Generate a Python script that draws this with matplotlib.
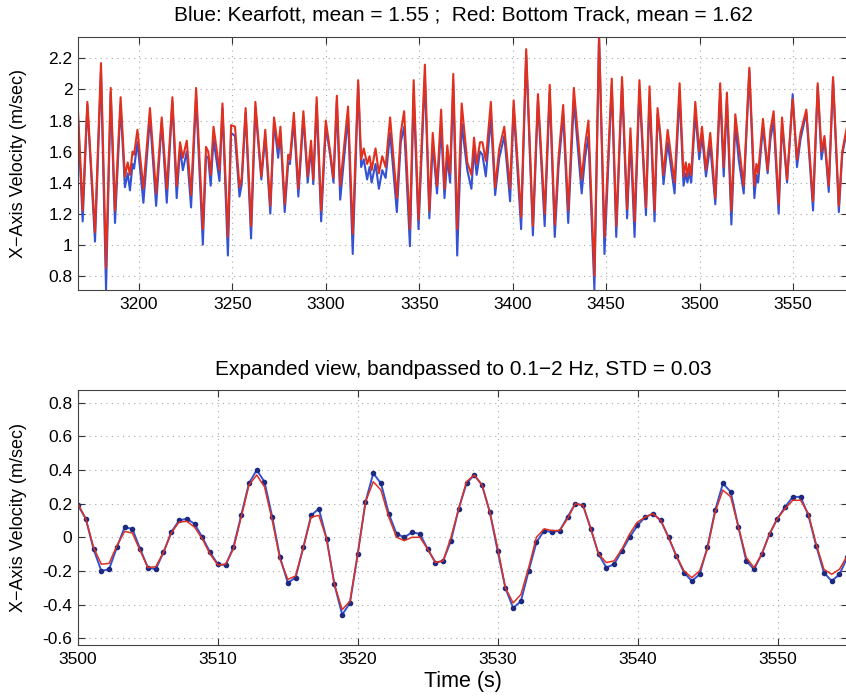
import numpy as np
import matplotlib
matplotlib.use('Agg')
import matplotlib.pyplot as plt
from matplotlib.ticker import FuncFormatter, MultipleLocator

plt.rcParams['font.family'] = ['Liberation Sans', 'DejaVu Sans']

# ---- top panel: turning points ----
t_top = [3166.7, 3169.9, 3172.4, 3176.5, 3179.7, 3182.4, 3184.9, 3187.2, 3190.2, 3192.5,
         3194.0, 3195.2, 3196.6, 3197.4, 3199.2, 3202.4, 3205.9, 3209.2, 3212.2, 3214.9,
         3217.9, 3220.2, 3222.0, 3223.5, 3225.6, 3227.9, 3230.6, 3234.2, 3235.9, 3237.1,
         3238.4, 3239.9, 3243.1, 3244.7, 3247.6, 3249.3, 3251.4, 3253.8, 3255.0, 3257.1,
         3260.0, 3262.3, 3265.5, 3267.6, 3270.3, 3272.3, 3274.5, 3275.7, 3278.0, 3279.9,
         3280.8, 3282.9, 3285.3, 3288.0, 3290.3, 3292.1, 3293.3, 3295.1, 3297.5, 3300.0,
         3302.3, 3304.1, 3305.9, 3307.7, 3311.9, 3314.4, 3317.3, 3318.9, 3320.3, 3322.1,
         3323.4, 3324.5, 3326.6, 3328.4, 3330.2, 3332.0, 3334.4, 3338.0, 3340.1, 3341.9,
         3345.0, 3347.0, 3349.6, 3353.0, 3355.4, 3357.2, 3359.5, 3361.7, 3363.5, 3365.0,
         3366.5, 3368.2, 3370.3, 3372.7, 3375.7, 3377.9, 3379.3, 3380.7, 3382.5, 3383.8,
         3385.6, 3388.3, 3390.6, 3392.8, 3395.5, 3398.6, 3400.5, 3404.5, 3407.2, 3410.8,
         3413.5, 3417.1, 3419.8, 3422.5, 3424.5, 3427.0, 3429.7, 3432.7, 3436.9, 3438.7,
         3440.5, 3443.7, 3446.2, 3449.1, 3453.0, 3455.4, 3458.5, 3461.2, 3463.0, 3465.2,
         3467.8, 3471.3, 3473.2, 3475.9, 3477.5, 3478.9, 3480.7, 3482.9, 3486.6, 3489.3,
         3491.4, 3492.6, 3493.5, 3494.4, 3495.5, 3497.7, 3499.8, 3501.3, 3503.4, 3505.7,
         3508.4, 3511.0, 3512.9, 3514.6, 3517.0, 3519.1, 3520.9, 3523.6, 3526.6, 3529.3,
         3530.4, 3531.3, 3533.9, 3536.4, 3537.9, 3539.6, 3542.3, 3544.1, 3546.8, 3549.8,
         3552.1, 3554.0, 3557.1, 3560.7, 3563.2, 3565.2, 3566.8, 3569.1, 3571.4, 3574.5,
         3576.3, 3579.5]

kearfott_top = [2.00, 1.15, 1.90, 1.02, 2.12, 0.71, 1.98, 1.14, 1.90, 1.37,
                1.46, 1.35, 1.52, 1.49, 1.66, 1.27, 1.82, 1.25, 1.79, 1.27,
                1.92, 1.30, 1.62, 1.48, 1.60, 1.24, 1.95, 1.00, 1.57, 1.56,
                1.38, 1.68, 1.41, 1.88, 0.93, 1.72, 1.70, 1.31, 1.39, 1.85,
                1.04, 1.88, 1.42, 1.70, 1.20, 1.79, 1.56, 1.72, 1.21, 1.53,
                1.52, 1.80, 1.31, 1.82, 1.40, 1.62, 1.39, 1.90, 1.15, 1.76,
                1.58, 1.40, 1.92, 1.29, 1.83, 0.94, 2.03, 1.50, 1.55, 1.42,
                1.50, 1.40, 1.52, 1.36, 1.48, 1.43, 1.72, 1.21, 1.66, 1.76,
                0.99, 1.97, 1.10, 2.08, 1.17, 1.65, 1.33, 1.76, 1.30, 1.56,
                1.40, 2.03, 0.93, 1.78, 1.48, 1.36, 1.61, 1.45, 1.60, 1.58,
                1.44, 1.82, 1.32, 1.56, 1.70, 1.28, 1.88, 1.10, 2.22, 1.06,
                1.93, 1.12, 1.98, 1.05, 1.50, 1.84, 1.14, 1.93, 1.33, 1.56,
                1.70, 0.71, 2.36, 0.94, 2.03, 1.05, 2.03, 1.17, 1.68, 1.05,
                2.00, 1.19, 1.95, 1.15, 1.84, 1.70, 1.39, 1.66, 1.33, 1.97,
                1.38, 1.46, 1.40, 1.47, 1.40, 1.85, 1.55, 1.70, 1.44, 1.64,
                1.26, 1.98, 1.44, 1.93, 1.13, 1.78, 1.55, 1.33, 2.12, 1.30,
                1.45, 1.40, 1.76, 1.46, 1.68, 1.80, 1.20, 1.78, 1.40, 1.97,
                1.50, 1.68, 1.85, 1.22, 2.02, 1.55, 1.68, 1.34, 2.06, 1.21,
                1.58, 1.78]

bottom_track_top = [2.04, 1.22, 1.92, 1.08, 2.17, 0.85, 2.01, 1.22, 1.95, 1.44,
                    1.53, 1.45, 1.60, 1.58, 1.74, 1.36, 1.88, 1.33, 1.82, 1.36,
                    1.95, 1.38, 1.66, 1.56, 1.67, 1.32, 2.01, 1.10, 1.63, 1.60,
                    1.45, 1.76, 1.48, 1.91, 1.05, 1.77, 1.76, 1.37, 1.43, 1.88,
                    1.12, 1.92, 1.44, 1.74, 1.25, 1.82, 1.62, 1.76, 1.26, 1.58,
                    1.55, 1.85, 1.36, 1.86, 1.44, 1.67, 1.42, 1.95, 1.22, 1.80,
                    1.60, 1.43, 1.96, 1.38, 1.89, 1.07, 2.06, 1.55, 1.62, 1.52,
                    1.57, 1.48, 1.62, 1.46, 1.57, 1.50, 1.82, 1.30, 1.72, 1.86,
                    1.10, 2.06, 1.16, 2.16, 1.22, 1.72, 1.38, 1.87, 1.36, 1.64,
                    1.46, 2.10, 1.10, 1.91, 1.53, 1.45, 1.69, 1.52, 1.66, 1.66,
                    1.54, 1.92, 1.37, 1.62, 1.76, 1.36, 1.93, 1.18, 2.26, 1.12,
                    1.97, 1.20, 2.03, 1.13, 1.56, 1.90, 1.22, 2.01, 1.42, 1.64,
                    1.80, 0.80, 2.33, 1.05, 2.07, 1.12, 2.08, 1.23, 1.75, 1.15,
                    2.06, 1.24, 2.02, 1.22, 1.88, 1.72, 1.45, 1.74, 1.40, 2.04,
                    1.44, 1.53, 1.44, 1.52, 1.45, 1.92, 1.60, 1.76, 1.48, 1.72,
                    1.30, 2.04, 1.50, 1.98, 1.22, 1.84, 1.65, 1.38, 2.14, 1.38,
                    1.52, 1.46, 1.81, 1.48, 1.74, 1.86, 1.26, 1.82, 1.42, 1.94,
                    1.55, 1.72, 1.87, 1.28, 2.04, 1.60, 1.70, 1.38, 2.08, 1.25,
                    1.60, 1.80]

# ---- bottom panel: bandpassed samples, 3500-3555 s ----
t_start = 3500.0
dt = 0.555
kearfott_bp = [0.19, 0.11, -0.07, -0.20, -0.19, -0.06, 0.06, 0.05, -0.07, -0.18,
               -0.19, -0.09, 0.03, 0.10, 0.11, 0.08, 0.00, -0.09, -0.16, -0.165,
               -0.06, 0.13, 0.32, 0.40, 0.33, 0.12, -0.12, -0.27, -0.24, -0.06,
               0.13, 0.17, -0.01, -0.28, -0.46, -0.39, -0.10, 0.21, 0.38, 0.32,
               0.14, 0.02, 0.00, 0.03, 0.02, -0.07, -0.15, -0.14, -0.02, 0.17,
               0.32, 0.37, 0.31, 0.15, -0.08, -0.30, -0.42, -0.38, -0.20, -0.03,
               0.04, 0.03, 0.04, 0.12, 0.20, 0.19, 0.05, -0.10, -0.18, -0.16,
               -0.08, 0.00, 0.07, 0.12, 0.14, 0.10, 0.00, -0.11, -0.21, -0.26,
               -0.22, -0.06, 0.16, 0.32, 0.27, 0.06, -0.14, -0.19, -0.10, 0.02,
               0.11, 0.18, 0.24, 0.24, 0.13, -0.05, -0.21, -0.26, -0.22, -0.12]
bottom_track_bp = [0.20, 0.11, -0.06, -0.16, -0.155, -0.05, 0.035, 0.025, -0.08, -0.18,
                   -0.175, -0.09, 0.025, 0.09, 0.095, 0.06, -0.01, -0.10, -0.165, -0.16,
                   -0.07, 0.12, 0.31, 0.37, 0.30, 0.10, -0.13, -0.25, -0.23, -0.06,
                   0.12, 0.13, -0.01, -0.28, -0.43, -0.38, -0.10, 0.21, 0.33, 0.28,
                   0.12, 0.00, -0.02, 0.00, 0.00, -0.07, -0.15, -0.14, 0.00, 0.17,
                   0.33, 0.37, 0.31, 0.15, -0.06, -0.30, -0.39, -0.34, -0.18, 0.00,
                   0.05, 0.04, 0.04, 0.11, 0.20, 0.19, 0.05, -0.10, -0.15, -0.14,
                   -0.07, 0.02, 0.09, 0.12, 0.14, 0.10, 0.00, -0.11, -0.20, -0.24,
                   -0.20, -0.07, 0.15, 0.28, 0.24, 0.06, -0.12, -0.18, -0.10, 0.02,
                   0.11, 0.17, 0.22, 0.22, 0.14, -0.04, -0.19, -0.22, -0.19, -0.11]

blue = '#3352d4'
red = '#e2301f'
dot_color = '#1c2a80'

fig = plt.figure(figsize=(8.46, 6.96), dpi=100)
ax1 = fig.add_axes([78/846, 1 - 290/696, 770/846, 253.3/696])
ax2 = fig.add_axes([78/846, 1 - 645/696, 770/846, 255/696])

fmt = FuncFormatter(lambda v, p: '%g' % round(v, 3))

ax1.plot(t_top, kearfott_top, color=blue, linewidth=1.5, solid_joinstyle='round')
ax1.plot(t_top, bottom_track_top, color=red, linewidth=1.5, solid_joinstyle='round')
ax1.set_xlim(3167.4, 3579.4)
ax1.set_ylim(0.708, 2.34)
ax1.xaxis.set_major_locator(MultipleLocator(50))
ax1.yaxis.set_major_locator(MultipleLocator(0.2))
ax1.set_title('Blue: Kearfott, mean = 1.55 ;  Red: Bottom Track, mean = 1.62',
              fontsize=15, pad=11.5)

t_bp = t_start + dt * np.arange(len(kearfott_bp))
ax2.plot(t_bp, kearfott_bp, color=blue, linewidth=1.4, marker='o', markersize=3,
         markerfacecolor=dot_color, markeredgecolor=dot_color)
ax2.plot(t_bp, bottom_track_bp, color=red, linewidth=1.1)
ax2.set_xlim(3500, 3555)
ax2.set_ylim(-0.64, 0.875)
ax2.xaxis.set_major_locator(MultipleLocator(10))
ax2.yaxis.set_major_locator(MultipleLocator(0.2))
ax2.set_title('Expanded view, bandpassed to 0.1\u22122 Hz, STD = 0.03',
              fontsize=15, pad=11)
ax2.set_xlabel('Time (s)', fontsize=15.5, labelpad=3)

for ax in (ax1, ax2):
    ax.set_ylabel('X\u2212Axis Velocity (m/sec)', fontsize=13)
    ax.yaxis.set_label_coords(-0.066, 0.5)
    ax.yaxis.set_major_formatter(fmt)
    ax.grid(True, color='#a8a8a8', linestyle=(0, (1, 4)), linewidth=0.8)
    ax.tick_params(direction='in', top=True, right=True, length=5,
                   labelsize=12.5, color='#333333')
    ax.tick_params(axis='y', pad=4)
    ax.tick_params(axis='x', pad=5)
    for s in ax.spines.values():
        s.set_color('#444444')
        s.set_linewidth(0.8)

fig.savefig('out.png', dpi=100)
